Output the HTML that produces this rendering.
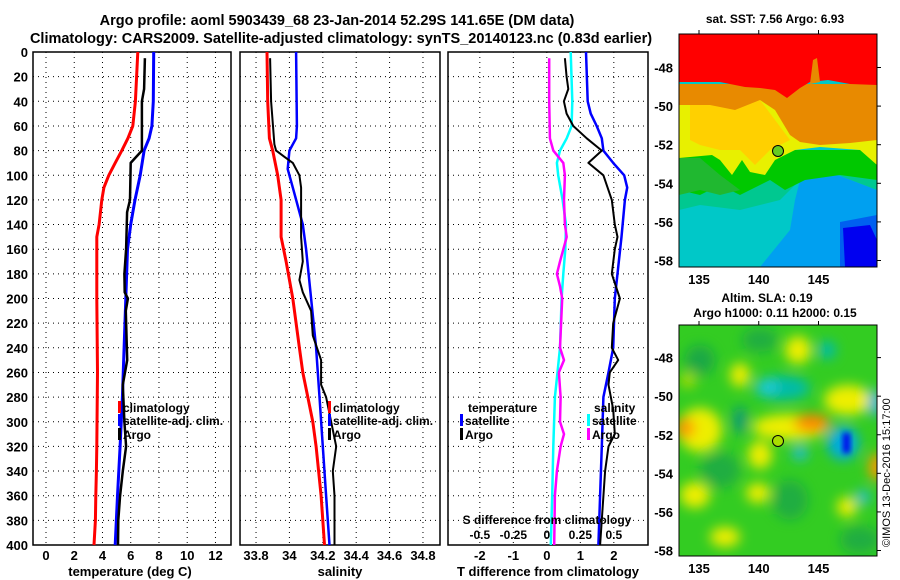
<!DOCTYPE html>
<html><head><meta charset="utf-8"><style>
html,body{margin:0;padding:0;background:#fff}
svg{display:block}
text{font-family:"Liberation Sans",Arial,sans-serif;font-weight:bold;fill:#000}
</style></head><body>
<svg id="fig" width="900" height="580" viewBox="0 0 900 580" xmlns="http://www.w3.org/2000/svg">
<defs>
<filter id="blur" x="-50%" y="-50%" width="200%" height="200%"><feGaussianBlur stdDeviation="6"/></filter>
<filter id="blur2" x="-50%" y="-50%" width="200%" height="200%"><feGaussianBlur stdDeviation="3"/></filter>
<clipPath id="clipMap1"><rect x="679" y="34" width="198" height="233"/></clipPath>
<clipPath id="clipMap2"><rect x="679" y="325" width="198" height="231"/></clipPath>
</defs>
<text x="337" y="25" font-size="14.5" text-anchor="middle">Argo profile: aoml 5903439_68 23-Jan-2014 52.29S 141.65E (DM data)</text>
<text x="341" y="43" font-size="14.5" text-anchor="middle">Climatology: CARS2009. Satellite-adjusted climatology: synTS_20140123.nc (0.83d earlier)</text>

<!-- SST map -->
<g clip-path="url(#clipMap1)">
<rect x="679" y="34" width="198" height="233" fill="#00c8c8"/>
<polygon fill="#00a0f0" points="800,180 830,172 877,190 877,267 760,267 790,230 795,200"/>
<polygon fill="#0060f0" points="840,222 877,215 877,267 840,267"/>
<polygon fill="#0000f0" points="843,228 870,225 877,240 877,267 845,267"/>
<polygon fill="#00c890" points="679,150 877,150 877,190 830,172 800,180 780,200 740,210 700,205 679,210"/>
<polygon fill="#00c800" points="679,150 877,150 877,180 840,175 805,180 785,190 770,180 740,195 720,185 700,195 679,190"/>
<polygon fill="#20b830" points="679,158 700,158 720,175 740,190 720,195 700,190 679,195"/>
<polygon fill="#e8f000" points="679,100 877,100 877,165 860,150 820,147 795,150 775,160 765,175 750,172 742,160 732,175 720,160 712,155 679,158"/>
<polygon fill="#ffd000" points="690,105 760,100 790,140 770,150 755,165 740,150 720,150 700,145 690,140"/>
<polygon fill="#e88a00" points="679,84 877,84 877,140 850,143 820,145 800,142 790,135 775,110 760,100 735,110 710,105 679,105"/>
<polygon fill="#ff0000" points="679,34 877,34 877,85 850,84 828,80 810,82 800,88 787,98 775,90 760,88 745,87 720,82 679,82"/>
<polygon fill="#e88a00" points="810,84 813,60 817,58 820,82"/>
</g>
<rect x="679" y="34" width="198" height="233" fill="none" stroke="#000" stroke-width="1"/>
<circle cx="778" cy="151" r="5.5" fill="#66cc22" stroke="#000" stroke-width="1"/>
<text x="775" y="23" font-size="12" text-anchor="middle">sat. SST: 7.56 Argo: 6.93</text>

<!-- SLA map -->
<g clip-path="url(#clipMap2)">
<rect x="679" y="325" width="198" height="231" fill="#33cc22"/>
<g filter="url(#blur)">
<ellipse cx="700" cy="360" rx="15" ry="15" fill="#119955" opacity="0.7"/>
<ellipse cx="760" cy="340" rx="18" ry="12" fill="#119955" opacity="0.6"/>
<ellipse cx="720" cy="470" rx="20" ry="18" fill="#119955" opacity="0.6"/>
<ellipse cx="790" cy="500" rx="18" ry="20" fill="#119955" opacity="0.6"/>
<ellipse cx="860" cy="540" rx="20" ry="14" fill="#119955" opacity="0.6"/>
<ellipse cx="700" cy="430" rx="22" ry="22" fill="#eeee00"/>
<ellipse cx="685" cy="428" rx="10" ry="10" fill="#ff9900"/>
<ellipse cx="790" cy="427" rx="38" ry="13" fill="#eeee00"/>
<ellipse cx="812" cy="423" rx="18" ry="9" fill="#ff8800"/>
<ellipse cx="848" cy="400" rx="24" ry="15" fill="#eeee00"/>
<ellipse cx="798" cy="350" rx="13" ry="14" fill="#eeee00"/>
<ellipse cx="740" cy="375" rx="10" ry="12" fill="#eeee00"/>
<ellipse cx="760" cy="455" rx="12" ry="14" fill="#eeee00"/>
<ellipse cx="758" cy="493" rx="12" ry="10" fill="#eeee00"/>
<ellipse cx="695" cy="495" rx="15" ry="13" fill="#eeee00"/>
<ellipse cx="725" cy="537" rx="15" ry="10" fill="#eeee00"/>
<ellipse cx="847" cy="507" rx="10" ry="10" fill="#eeee00"/>
<ellipse cx="877" cy="467" rx="8" ry="14" fill="#ff9900"/>
<ellipse cx="688" cy="380" rx="8" ry="8" fill="#aadd00"/>
<ellipse cx="782" cy="388" rx="28" ry="12" fill="#00bbaa"/>
<ellipse cx="768" cy="387" rx="10" ry="7" fill="#22ccdd"/>
<ellipse cx="827" cy="350" rx="9" ry="9" fill="#00bbaa"/>
<ellipse cx="843" cy="443" rx="16" ry="17" fill="#00aadd"/>
<ellipse cx="800" cy="453" rx="8" ry="7" fill="#22bbdd"/>
<ellipse cx="875" cy="403" rx="6" ry="14" fill="#22aaee"/>
<ellipse cx="863" cy="497" rx="7" ry="7" fill="#22bbdd"/>
<ellipse cx="740" cy="420" rx="7" ry="14" fill="#119977"/>
</g>
<rect x="843" y="433" width="7" height="20" fill="#0000ee" filter="url(#blur2)"/>
</g>
<rect x="679" y="325" width="198" height="231" fill="none" stroke="#000" stroke-width="1"/>
<circle cx="778" cy="441" r="5.5" fill="#aadd00" stroke="#000" stroke-width="1"/>
<text x="767" y="302" font-size="12" text-anchor="middle">Altim. SLA: 0.19</text>
<text x="775" y="317" font-size="12" text-anchor="middle">Argo h1000: 0.11 h2000: 0.15</text>
<text x="0" y="0" font-size="11" style="font-weight:normal" transform="translate(890,547) rotate(-90)">©IMOS 13-Dec-2016 15:17:00</text>
<g id="plots"></g>
</svg>
<script>
// ---- data ----
const depthTicks = [0,20,40,60,80,100,120,140,160,180,200,220,240,260,280,300,320,340,360,380,400];
const tempTicks = [0,2,4,6,8,10,12];
const salTicks = [33.8,34,34.2,34.4,34.6,34.8];
const salTickLabels = ["33.8","34","34.2","34.4","34.6","34.8"];
const tdiffTicks = [-2,-1,0,1,2];
const sdiffTicks = [-0.5,-0.25,0,0.25,0.5];
const sdiffTickLabels = ["-0.5","-0.25","0","0.25","0.5"];

const climTempDepth = [0,40,60,70,80,90,100,110,120,140,150,200,260,320,340,360,380,400];
const climTemp = [6.5,6.33,6.15,5.8,5.37,4.9,4.45,4.1,3.95,3.76,3.6,3.6,3.65,3.6,3.57,3.53,3.5,3.4];
const satTempDepth = [0,40,60,70,80,100,120,140,160,200,240,280,320,360,400];
const satTemp = [7.63,7.6,7.5,7.3,6.95,6.67,6.3,6.0,5.77,5.65,5.53,5.41,5.25,5.06,4.9];
const argoTempDepth = [5,30,40,80,90,120,130,160,180,195,200,210,250,270,300,320,340,360,380,400];
const argoTemp = [7.0,6.95,6.79,6.79,6.0,5.95,5.74,5.67,5.55,5.57,5.8,5.65,5.75,5.44,5.55,5.67,5.44,5.25,5.12,5.1];

const climSalDepth = [0,40,70,80,100,120,150,170,200,240,260,280,300,320,360,400];
const climSal = [33.866,33.87,33.88,33.9,33.93,33.95,33.95,33.98,34.02,34.06,34.08,34.11,34.14,34.16,34.19,34.21];
const satSalDepth = [0,60,70,80,95,110,140,160,200,240,280,320,360,400];
const satSal = [34.04,34.045,34.04,34.0,33.99,34.02,34.08,34.1,34.13,34.16,34.18,34.2,34.22,34.24];
const argoSalDepth = [5,40,75,80,85,90,100,110,150,170,185,195,210,230,250,270,280,320,340,360,400];
const argoSal = [33.884,33.89,33.91,33.92,33.97,34.02,34.06,34.07,34.07,34.08,34.06,34.08,34.13,34.14,34.19,34.19,34.22,34.28,34.26,34.27,34.27];

const satTdiffDepth = [0,40,50,60,70,80,90,100,110,120,150,200,240,260,280,320,360,400];
const satTdiff = [1.17,1.22,1.31,1.49,1.64,1.69,1.98,2.31,2.4,2.33,2.23,2.03,1.98,1.84,1.69,1.64,1.59,1.54];
const argoTdiffDepth = [5,20,30,40,50,60,70,80,90,100,120,140,150,160,180,200,220,240,250,260,270,290,310,320,340,400];
const argoTdiff = [0.54,0.59,0.64,0.51,0.59,0.79,1.19,1.64,1.24,1.69,1.94,2.03,2.11,2.03,1.94,2.18,1.98,1.94,2.13,1.88,1.84,1.98,2.03,1.84,1.74,1.59];
const satSdiffDepth = [0,40,60,70,80,90,100,120,140,160,180,200,240,260,280,320,360,400];
const satSdiff = [0.178,0.19,0.185,0.148,0.098,0.075,0.085,0.118,0.143,0.138,0.123,0.11,0.098,0.08,0.06,0.048,0.04,0.03];
const argoSdiffDepth = [5,40,70,80,90,100,120,140,150,170,180,190,200,240,250,260,280,300,310,320,340,360,400];
const argoSdiff = [0.018,0.018,0.023,0.048,0.123,0.135,0.128,0.135,0.148,0.098,0.075,0.098,0.115,0.098,0.128,0.09,0.103,0.098,0.128,0.103,0.075,0.06,0.055];

// ---- layout ----
const NS = "http://www.w3.org/2000/svg";
const root = document.getElementById("plots");
const yTop = 52, yBot = 545;
function yScale(d){ return yTop + (d/400)*(yBot-yTop); }
function mk(tag, attrs, parent){ const e=document.createElementNS(NS,tag); for(const k in attrs) e.setAttribute(k,attrs[k]); (parent||root).appendChild(e); return e; }

const panels = [
 {x0:33, x1:231, vmin:-0.92, vmax:13.1, name:"temperature"},
 {x0:240, x1:440, vmin:33.704, vmax:34.902, name:"salinity"},
 {x0:448, x1:648, vmin:-2.95, vmax:3.02, name:"difference"}
];
function xScale(p,v){ return p.x0 + (v-p.vmin)/(p.vmax-p.vmin)*(p.x1-p.x0); }

panels.forEach((p,i)=>{
  const g = mk("g",{});
  
  
  const ticks = i===0?tempTicks:(i===1?salTicks:tdiffTicks);
  const labels = i===0?tempTicks.map(String):(i===1?salTickLabels:tdiffTicks.map(String));
  depthTicks.forEach(d=>{
    if(d===0||d===400) return;
    const l = mk("line",{x1:p.x0,x2:p.x1,y1:yScale(d),y2:yScale(d),stroke:"#000","stroke-width":1,"stroke-dasharray":"1,4"},g);
    
    
  });
  ticks.forEach((t,k)=>{
    const x = xScale(p,t);
    const l = mk("line",{x1:x,x2:x,y1:yTop,y2:yBot,stroke:"#000","stroke-width":1,"stroke-dasharray":"1,4"},g);
    
    
    const tx = mk("text",{x:x,y:560,"font-size":13,"text-anchor":"middle"},g);
    tx.textContent = labels[k];
    
    
  });
  const fr = mk("rect",{x:p.x0,y:yTop,width:p.x1-p.x0,height:yBot-yTop,fill:"none",stroke:"#000","stroke-width":1.5},g);
  
  
  p.g = g;
});

depthTicks.forEach(d=>{
  const t = mk("text",{x:28,y:yScale(d)+5,"font-size":13,"text-anchor":"end"});
  t.textContent = String(d);
  
  
});

[["temperature (deg C)",130,"temperature-axis-title"],["salinity",340,"salinity-axis-title"],["T difference from climatology",548,"t-difference-axis-title"]].forEach(a=>{
  const t = mk("text",{x:a[1],y:576,"font-size":13,"text-anchor":"middle"});
  t.textContent = a[0];
  
  
});
const sdT = mk("text",{x:547,y:524,"font-size":12,"text-anchor":"middle"});
sdT.textContent = "S difference from climatology";


sdiffTicks.forEach((s,k)=>{
  const t = mk("text",{x:xScale(panels[2],s*4),y:539,"font-size":12,"text-anchor":"middle"});
  t.textContent = sdiffTickLabels[k];
  
  
});

function line(p, vals, depths, color, w, name, scale){
  const pts = vals.map((v,i)=> xScale(p, v*(scale||1)).toFixed(1)+","+yScale(depths[i]).toFixed(1)).join(" ");
  const e = mk("polyline",{points:pts,fill:"none",stroke:color,"stroke-width":w,"stroke-linejoin":"round"},p.g);
  
  
}
line(panels[0], climTemp, climTempDepth, "#ff0000", 3, "climatology-temperature-line");
line(panels[0], satTemp, satTempDepth, "#0000ff", 3, "satellite-temperature-line");
line(panels[0], argoTemp, argoTempDepth, "#000000", 2.5, "argo-temperature-line");
line(panels[1], climSal, climSalDepth, "#ff0000", 3, "climatology-salinity-line");
line(panels[1], satSal, satSalDepth, "#0000ff", 2.5, "satellite-salinity-line");
line(panels[1], argoSal, argoSalDepth, "#000000", 2, "argo-salinity-line");
line(panels[2], satSdiff, satSdiffDepth, "#00ffff", 2.5, "satellite-salinity-difference-line", 4);
line(panels[2], argoSdiff, argoSdiffDepth, "#ff00ff", 2.5, "argo-salinity-difference-line", 4);
line(panels[2], satTdiff, satTdiffDepth, "#0000ff", 2.5, "satellite-temperature-difference-line");
line(panels[2], argoTdiff, argoTdiffDepth, "#000000", 2, "argo-temperature-difference-line");

function legendEntry(x, y, color, label, name){
  const r = mk("rect",{x:x,y:y-6,width:3,height:12,fill:color});
  
  
  const t = mk("text",{x:x+5,y:y+5,"font-size":12});
  t.textContent = label;
  
  
}
[[118,"temperature"],[328,"salinity"]].forEach(L=>{
  legendEntry(L[0],407,"#ff0000","climatology","legend-climatology-"+L[1]);
  legendEntry(L[0],420,"#0000ff","satellite-adj. clim.","legend-satellite-"+L[1]);
  legendEntry(L[0],434,"#000000","Argo","legend-argo-"+L[1]);
});
const lt = mk("text",{x:468,y:412,"font-size":12}); lt.textContent="temperature";


const ls = mk("text",{x:594,y:412,"font-size":12}); ls.textContent="salinity";


legendEntry(460,420,"#0000ff","satellite","legend-t-diff-satellite");
legendEntry(460,434,"#000000","Argo","legend-t-diff-argo");
legendEntry(587,420,"#00ffff","satellite","legend-s-diff-satellite");
legendEntry(587,434,"#ff00ff","Argo","legend-s-diff-argo");

const lonTicks = [135,140,145];
const latTicks = [-48,-50,-52,-54,-56,-58];
function lonX(l){ return 699 + (l-135)*(818.5-699)/10; }
[[34,267,67.5,260.5,"sst"],[325,556,357.6,550.5,"sla"]].forEach(m=>{
  lonTicks.forEach(l=>{
    const t = mk("text",{x:lonX(l),y:m[1]+17,"font-size":13,"text-anchor":"middle"});
    t.textContent = String(l);
    
    
    const k = mk("line",{x1:lonX(l),x2:lonX(l),y1:m[0]-4,y2:m[0],stroke:"#000"});
    
    
  });
  latTicks.forEach(a=>{
    const y = m[2] + (-48-a)/10*(m[3]-m[2]);
    const t = mk("text",{x:673,y:y+5,"font-size":13,"text-anchor":"end"});
    t.textContent = String(a);
    
    
    const k = mk("line",{x1:877,x2:881,y1:y,y2:y,stroke:"#000"});
    
    
  });
});
</script>
</body></html>
